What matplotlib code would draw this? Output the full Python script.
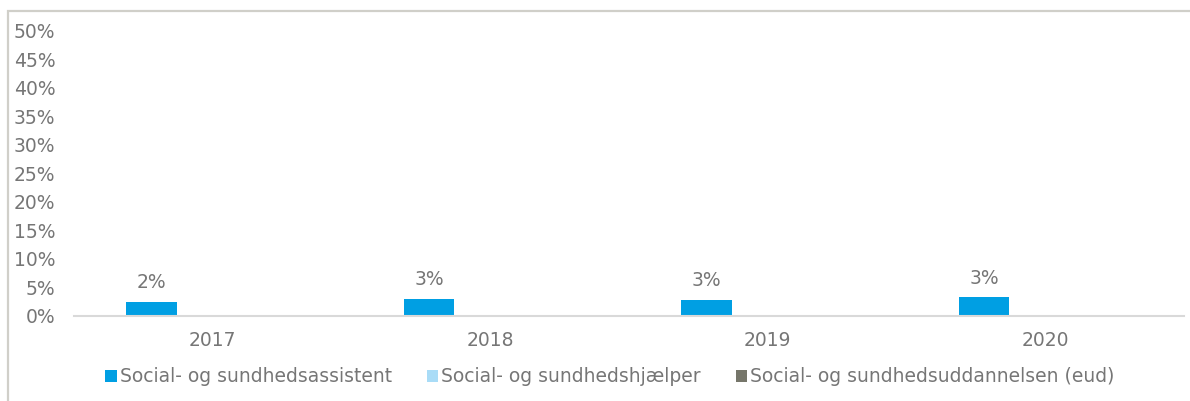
import numpy as np
import matplotlib
matplotlib.use("Agg")
import matplotlib.pyplot as plt
from matplotlib.patches import Rectangle
from matplotlib.ticker import PercentFormatter

years = ["2017", "2018", "2019", "2020"]
series_names = [
    "Social- og sundhedsassistent",
    "Social- og sundhedshjælper",
    "Social- og sundhedsuddannelsen (eud)",
]
assistent = [0.024, 0.029, 0.028, 0.032]
hjaelper = [np.nan, np.nan, np.nan, np.nan]
eud = [np.nan, np.nan, np.nan, np.nan]
colors = ["#009FE3", "#A9DCF7", "#76766A"]

TEXT = "#767676"
FS = 13.5
plt.rcParams["font.family"] = ["DejaVu Sans"]

fig = plt.figure(figsize=(11.90, 4.01), dpi=100)
fig.patch.set_facecolor("white")

# outer chart frame
fig.patches.append(Rectangle((8 / 1190, -0.1), 1.2, 1.1 - 11.5 / 401,
                             transform=fig.transFigure, fill=False,
                             edgecolor="#D0CFC9", linewidth=1.6, zorder=0))

ax = fig.add_axes([74 / 1190, 1 - 315.5 / 401, 1110 / 1190, (315.5 - 31) / 401])

x = np.arange(len(years))
width = 0.182
step = 0.22
all_series = [assistent, hjaelper, eud]
for i, (vals, name, col) in enumerate(zip(all_series, series_names, colors)):
    pos = x + (i - 1) * step
    ax.bar(pos, vals, width=width, color=col, label=name, linewidth=0, zorder=2)
    for p, v in zip(pos, vals):
        if not np.isnan(v):
            ax.annotate(f"{v:.0%}", (p, v), xytext=(0, 7), textcoords="offset points",
                        ha="center", va="bottom", color=TEXT, fontsize=FS)

ax.set_xlim(-0.5, len(years) - 0.5)
ax.set_ylim(0, 0.5)
ax.set_yticks(np.arange(0, 0.51, 0.05))
ax.yaxis.set_major_formatter(PercentFormatter(1.0, decimals=0))
ax.set_xticks(x)
ax.set_xticklabels(years)
ax.tick_params(axis="both", length=0, colors=TEXT, labelsize=FS)
ax.tick_params(axis="y", pad=13.5)
ax.tick_params(axis="x", pad=11.5)
for s in ["top", "right", "left"]:
    ax.spines[s].set_visible(False)
ax.spines["bottom"].set_color("#D9D9D9")
ax.spines["bottom"].set_linewidth(1.5)
ax.set_facecolor("none")

fig.legend(loc="center", bbox_to_anchor=(610 / 1190, 1 - 377 / 401), ncol=3,
           frameon=False, fontsize=FS, handlelength=0.6, handleheight=0.6,
           handletextpad=0.18, columnspacing=1.85, labelcolor=TEXT)

fig.savefig("out.png", dpi=100, facecolor="white")
